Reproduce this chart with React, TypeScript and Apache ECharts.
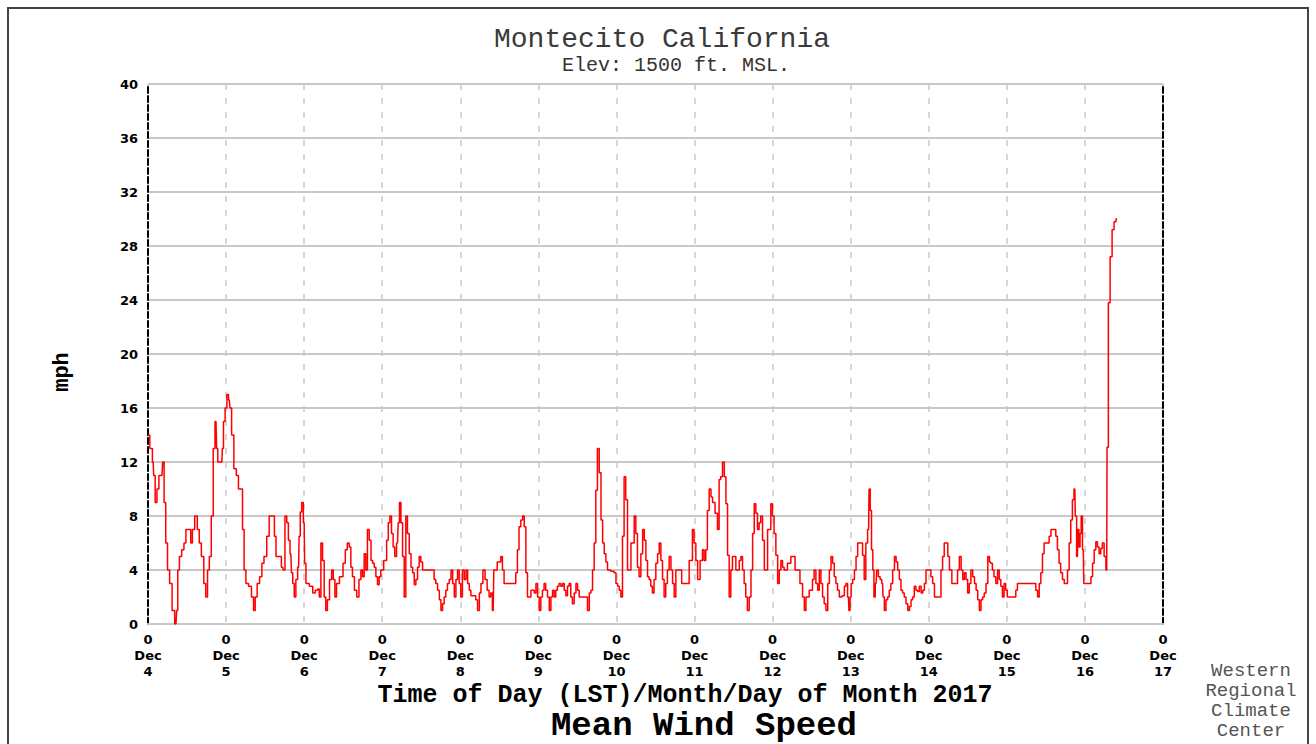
import React, { useEffect, useRef } from "react";
import * as echarts from "echarts";

const dayLabels = ["4", "5", "6", "7", "8", "9", "10", "11", "12", "13", "14", "15", "16", "17"];

const titleText = "Montecito California";
const subtitleText = "Elev: 1500 ft. MSL.";
const xAxisTitle = "Time of Day (LST)/Month/Day of Month 2017";
const chartName = "Mean Wind Speed";
const unitName = "mph";
const creditLines = ["Western", "Regional", "Climate", "Center"];

// hours since Dec 4 00:00 LST
const windHours = [
  0, 1.1, 1.6, 1.9, 2.5, 3.0, 3.7, 4.3, 4.7, 5.2, 5.7, 6.3, 7.0, 7.8, 8.6, 9.0, 9.3, 10.0, 10.7, 11.4,
  11.9, 12.9, 13.4, 13.9, 14.8, 15.5, 16.0, 16.8, 17.5, 18.0, 18.6, 19.1, 19.8, 20.3, 20.9, 21.3, 21.6, 22.7, 23.0, 23.4,
  24.0, 24.5, 25.0, 25.4, 26.0, 26.8, 27.5, 28.1, 28.8, 29.3, 29.8, 30.4, 31.4, 32.2, 32.7, 33.2, 33.9, 34.7, 35.3, 36.0,
  37.0, 37.5, 38.6, 39.1, 39.6, 40.6, 41.4, 41.8, 42.4, 42.9, 43.4, 43.9, 44.3, 44.7, 45.2, 45.7, 46.3, 46.6, 47.0, 47.5,
  48.0, 48.3, 48.8, 50.4, 50.9, 51.9,
  52.4, 52.9, 53.4, 53.9, 54.4, 54.9, 55.4, 56.2, 56.7, 57.2, 57.7, 58.2, 59.5, 60.4, 60.9, 61.6, 62.1, 62.6, 63.1, 63.8,
  64.5, 65.2, 65.7, 66.2, 66.7, 67.2, 67.7, 68.3, 68.8, 69.3, 69.8, 70.3, 70.8, 71.3, 71.8, 73.1, 73.6, 74.1, 74.6, 75.1,
  75.6, 76.1, 76.7, 77.1, 77.5, 78.0, 78.5, 79.0, 79.5, 80.0, 80.6, 81.1, 81.6, 82.1, 82.6, 83.1, 83.6, 84.1, 84.7, 87.7,
  88.2, 88.7, 89.3, 89.8, 90.3, 90.8, 91.3, 91.8, 92.3, 92.9, 93.4, 93.9, 94.4, 94.9, 95.4, 95.9, 96.4, 96.9, 97.5, 98.0,
  98.5, 99.0, 99.5, 100.5, 101.0, 101.6, 102.1,
  102.6, 103.3, 103.9, 104.6, 105.1, 105.6, 106.1, 106.5, 108.2, 108.7, 109.2, 109.7, 112.8, 113.3, 113.8, 114.3, 114.9, 115.4, 115.9, 116.4,
  116.9, 118.5, 119.0, 119.5, 120.0, 120.5, 121.0, 121.5, 122.0, 122.5, 123.1, 123.6, 124.1, 124.6, 125.1, 125.6, 126.1, 126.6, 127.2, 127.7,
  128.2, 128.7, 129.2, 129.7, 130.2, 130.7, 131.3, 131.8, 132.3, 132.8, 134.8, 135.4, 135.9, 136.4, 136.9, 137.4, 137.9, 138.4, 139.0, 139.5,
  140.0, 140.5, 141.0, 141.5, 143.0, 143.6, 144.1, 144.6, 145.1, 145.6, 146.1, 146.6, 147.1, 147.7, 149.2, 149.7, 150.2, 150.7, 151.2, 151.8,
  152.3, 152.8, 153.3, 153.8, 154.3,
  154.8, 155.3, 155.8, 156.4, 156.9, 157.4, 157.9, 158.4, 158.9, 159.4, 159.9, 160.5, 161.0, 161.5, 162.0, 162.5, 165.6, 167.1, 167.6, 168.1,
  168.7, 169.2, 170.2, 170.7, 171.2, 171.7, 172.2, 172.8, 173.3, 173.8, 174.8, 175.3, 175.8, 176.3, 176.9, 177.4, 177.9, 178.4, 178.9, 179.4,
  179.9, 181.5, 182.0, 182.5, 183.0, 183.5, 184.0, 184.5, 185.1, 185.6, 186.1, 186.6, 187.1, 187.6, 188.1, 188.6, 189.2, 189.7, 191.2, 191.7,
  192.2, 192.7, 193.3, 193.8, 194.3, 194.8, 195.3, 195.8, 197.3, 197.9, 199.9, 200.9, 201.5, 202.0, 202.5, 204.0, 204.5, 205.0, 205.6, 206.1,
  206.6,
  207.1, 207.6, 208.1, 208.7, 209.2, 209.7, 210.2, 210.7, 211.2, 211.7, 212.2, 212.8, 213.8, 214.3, 214.8, 215.3, 215.6, 216.0, 216.3, 216.9,
  217.4, 217.9, 218.4, 219.4, 219.9, 220.4, 220.9, 221.5, 221.8, 222.2, 222.6, 223.0, 223.3, 223.8, 224.2, 224.8, 225.3, 225.8, 226.1, 226.6,
  227.1, 227.6, 228.1, 228.6, 229.2, 229.7, 230.2, 230.7, 231.2, 231.7, 232.2, 232.7, 233.3, 233.8, 234.3, 234.8, 235.3, 235.8, 236.3, 236.8,
  237.4, 237.9, 238.4, 238.9, 239.4, 240.4, 240.9, 241.5, 242.0, 243.5, 244.0, 244.5, 245.0, 245.6, 246.1, 246.6, 247.6, 248.6, 249.1, 249.7,
  250.2, 250.7, 251.2, 251.7, 252.2, 252.7, 253.2, 253.8, 254.3, 254.8, 255.3, 255.8, 256.3, 256.8, 257.3, 257.9, 258.4, 258.9,
  259.3, 259.8, 260.3, 260.9, 261.4, 261.9, 262.4, 262.9, 263.4, 263.9, 264.4, 266.5, 267.0, 267.5, 272.6, 273.2, 273.7, 274.2, 274.7, 275.2,
  275.7, 276.7, 277.3, 277.8, 278.8, 279.3, 279.8, 280.3, 280.8, 281.4, 281.9, 282.4, 282.9, 283.4, 283.9, 284.4, 284.9, 285.2, 285.7, 286.0,
  286.3, 286.7, 287.0, 287.5, 287.8, 289.6, 290.1, 290.6, 291.1, 291.6, 292.1, 292.6, 293.1, 293.6, 294.2, 294.7, 294.9, 295.5, 296.0, 296.7,
  297.2, 297.9,
];

const windMph = [
  14, 13, 12, 11, 9, 10, 11, 11, 12, 9, 6, 4, 3, 1, 0, 1, 4, 5, 5.5, 6,
  7, 7, 6, 7, 8, 7, 6, 5, 3, 2, 4, 5, 8, 13, 15, 13, 12, 12, 13, 15,
  16, 17, 16.6, 16, 14, 11.5, 11, 10, 10, 7, 4, 3, 2.8, 2, 1, 2, 3, 3.5, 4.5, 5,
  6.5, 8, 8, 6.5, 5, 5, 4.2, 4, 8, 7.5, 6.2, 5.2, 3.8, 3, 2, 3.3, 4.2, 6.5, 8.3, 9,
  7.5, 4.5, 3, 2.8, 2.3, 2.5,
  2.6, 2, 6, 4.7, 2, 1, 1.8, 3.3, 4, 3.3, 2, 3, 3.5, 4.5, 5.5, 6, 5.7, 4.2, 3.5, 2.5,
  2, 3.3, 4, 3.5, 5.2, 4, 7, 6.2, 4.7, 4.5, 4.2, 3.5, 2.9, 3.5, 4, 4.7, 6.2, 7.5, 8, 6.7,
  5.7, 5, 6, 7.5, 9, 7.5, 5, 2, 8, 6.7, 5.2, 4.2, 3.8, 2.9, 3.3, 4.2, 5, 4.6, 4, 4,
  3.3, 3, 2.5, 1.8, 1, 1.5, 2, 2.5, 3, 3.3, 4, 3, 2, 3.3, 4, 3, 2, 4, 3.3, 4,
  3, 2.5, 2.1, 2.1, 1.8, 1, 2.3,
  3, 4, 3.3, 2.5, 2, 2.3, 1, 4, 4.6, 5, 4, 3, 3, 3.8, 5.5, 7.2, 7.7, 8, 7.2, 3.8,
  2, 2.5, 2.3, 3, 2, 1, 2, 2.5, 3, 2.5, 2, 1, 2, 2.5, 2, 2.5, 2.8, 3, 2.8, 3,
  2.5, 2.1, 2.8, 3, 2, 1.5, 2.3, 3, 2.5, 2, 2, 1, 2.3, 2.5, 4, 6, 9.9, 13, 11.2, 7.7,
  6, 5.2, 4.6, 4, 3.9, 3.8, 3, 2.8, 2.5, 2, 6.5, 10.9, 9.2, 4, 6, 8, 6.7, 4.2, 3.5, 5.2,
  7, 6.2, 4.7, 3.5, 3.3,
  2.8, 2.3, 3.3, 4.5, 5.2, 6, 4.7, 3.3, 2, 3, 4, 5, 4, 3, 2, 4, 3, 4.7, 7, 6,
  4.7, 3.3, 4.7, 5.5, 4.7, 5.5, 8.4, 10, 9.4, 9, 8.2, 7, 10.7, 10.9, 12, 10.9, 8.9, 5.1, 2, 4,
  5, 4, 4.7, 5, 4, 3, 2, 1, 2, 4, 6.7, 8.9, 8.2, 7, 7.5, 8, 6.2, 4, 7, 8.9,
  8, 6.7, 5.1, 3, 4, 4.7, 4.2, 4, 4.5, 5, 4, 3, 2, 1, 2, 2.5, 3.3, 4, 3, 2.5,
  4,
  3, 2, 1.5, 1, 3, 4, 5, 4.5, 3.5, 3, 2.5, 2, 2.1, 2.8, 3, 2, 1, 2, 3, 3.3,
  4, 5, 6, 6, 5.1, 3.3, 6, 7, 10, 8.4, 5.5, 4, 2, 3, 4, 3.5, 3.3, 3, 2, 1,
  1.8, 2, 2.5, 3, 4, 5, 4.6, 4, 3.3, 2.5, 2.3, 2, 1.5, 1, 1.3, 1.8, 2, 2.8, 2.5, 2.4,
  2.8, 2.3, 2.5, 3, 4, 4, 3.5, 3, 2, 2, 4, 5, 6, 6, 5, 4, 3, 3, 4, 5,
  4, 3.3, 3.8, 3.3, 2.3, 3, 4, 3.5, 3, 2.5, 1.8, 1, 1.8, 2, 2.3, 3, 5, 4.6,
  4.5, 4, 3.5, 3, 4, 3.3, 2.8, 2, 3, 2.5, 2, 2, 2.5, 3, 3, 2.5, 2, 3, 3.8, 5.2,
  6, 6, 6.5, 7, 7, 6.5, 5.5, 4.5, 3.8, 3.3, 3, 3, 4, 6, 7.7, 9.2, 10, 8, 5, 7,
  5.7, 6.7, 8, 5.5, 3, 3, 3.5, 4.5, 5.5, 6.1, 5.7, 5.2, 5.6, 6, 5, 4, 13.1, 23.8, 27.2, 29.2,
  29.8, 30,
];

const MONO = '"Liberation Mono", "DejaVu Sans Mono", monospace';
const SANS = '"DejaVu Sans", sans-serif';

export default function App() {
  const ref = useRef<HTMLDivElement>(null);

  useEffect(() => {
    const chart = echarts.init(ref.current as HTMLDivElement, null, { renderer: "svg" });
    const data = windHours.map((h, i) => [h, windMph[i]]);
    const axisDash = { show: true, lineStyle: { color: "#000", type: [6, 3], width: 2 } };

    chart.setOption({
      animation: false,
      backgroundColor: "#ffffff",
      grid: { left: 148, top: 84, width: 1015, height: 540, containLabel: false },
      xAxis: {
        type: "value",
        min: 0,
        max: 312,
        interval: 24,
        axisLine: { show: true, lineStyle: { color: "#c8c8c8", width: 2 } },
        axisTick: { show: false },
        axisLabel: {
          formatter: (v: number) => `0\nDec\n${dayLabels[Math.round(v / 24)]}`,
          fontFamily: SANS,
          fontWeight: "bold",
          fontSize: 13,
          color: "#000",
          lineHeight: 16,
          margin: 7,
        },
        splitLine: { show: true, lineStyle: { color: "#c8c8c8", type: [6, 8], width: 1.5 } },
      },
      yAxis: [
        {
          type: "value",
          min: 0,
          max: 40,
          interval: 4,
          position: "left",
          axisLine: axisDash,
          axisTick: { show: false },
          axisLabel: { fontFamily: SANS, fontWeight: "bold", fontSize: 13, color: "#000", margin: 10 },
          splitLine: { show: true, lineStyle: { color: "#c8c8c8", width: 2 } },
        },
        {
          type: "value",
          min: 0,
          max: 40,
          interval: 4,
          position: "right",
          axisLine: axisDash,
          axisTick: { show: false },
          axisLabel: { show: false },
          splitLine: { show: false },
        },
      ],
      series: [
        {
          type: "line",
          data,
          step: "middle",
          symbol: "none",
          showSymbol: false,
          yAxisIndex: 0,
          lineStyle: { color: "#ff0000", width: 1.5 },
          z: 5,
        },
      ],
      graphic: [
        {
          type: "rect",
          silent: true,
          shape: { x: 8, y: 8, width: 1300, height: 770 },
          style: { fill: "none", stroke: "#444", lineWidth: 2 },
        },
        {
          type: "text",
          x: 662,
          y: 39,
          style: {
            text: titleText,
            fontFamily: MONO,
            fontSize: 28,
            fill: "#3a3a3a",
            align: "center",
            verticalAlign: "middle",
          },
        },
        {
          type: "text",
          x: 676,
          y: 65,
          style: {
            text: subtitleText,
            fontFamily: MONO,
            fontSize: 20,
            fill: "#333",
            align: "center",
            verticalAlign: "middle",
          },
        },
        {
          type: "text",
          x: 62,
          y: 372,
          rotation: Math.PI / 2,
          style: {
            text: unitName,
            fontFamily: MONO,
            fontWeight: "bold",
            fontSize: 22,
            fill: "#000",
            align: "center",
            verticalAlign: "middle",
          },
        },
        {
          type: "text",
          x: 685,
          y: 695,
          style: {
            text: xAxisTitle,
            fontFamily: MONO,
            fontWeight: "bold",
            fontSize: 25,
            fill: "#000",
            align: "center",
            verticalAlign: "middle",
          },
        },
        {
          type: "text",
          x: 704,
          y: 726,
          style: {
            text: chartName,
            fontFamily: MONO,
            fontWeight: "bold",
            fontSize: 34,
            fill: "#000",
            align: "center",
            verticalAlign: "middle",
          },
        },
        {
          type: "text",
          x: 1251,
          y: 701,
          style: {
            text: creditLines.join("\n"),
            fontFamily: MONO,
            fontSize: 19,
            lineHeight: 20,
            fill: "#555",
            align: "center",
            verticalAlign: "middle",
          },
        },
      ],
    });

    return () => chart.dispose();
  }, []);

  return (
    <div
      ref={ref}
      style={{ position: "fixed", left: 0, top: 0, width: 1316, height: 744, background: "#fff" }}
    />
  );
}
